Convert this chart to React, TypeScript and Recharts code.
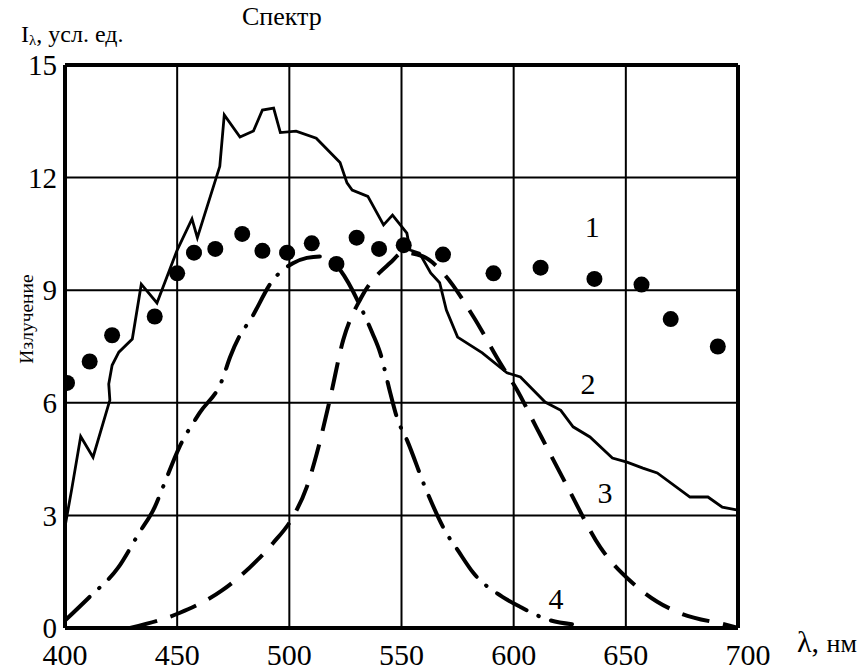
import {
  ComposedChart,
  Line,
  Scatter,
  XAxis,
  YAxis,
  CartesianGrid,
  ReferenceLine,
  ReferenceDot,
} from "recharts";

// wavelength ticks and intensity ticks
const xTicks = [400, 450, 500, 550, 600, 650, 700];
const yTicks = [0, 3, 6, 9, 12, 15];

// 1 - measured points
const dotsX = [400.9, 411, 421, 440, 450, 457.5, 467, 479, 488, 499, 510, 521, 530, 540, 551, 568.5, 591, 612, 636, 657, 670, 691];
const dotsY = [6.53, 7.1, 7.8, 8.3, 9.45, 10.0, 10.1, 10.5, 10.05, 10.0, 10.25, 9.7, 10.4, 10.1, 10.2, 9.95, 9.45, 9.6, 9.3, 9.15, 8.23, 7.5];

// 2 - spectrum
const specX = [400, 403, 407, 412.5, 420, 419.5, 421, 424, 430, 434, 441, 450, 456.6, 459, 469, 471, 478, 484, 488, 493, 496, 503, 512, 522.6, 525.7, 528, 535, 542, 546, 552.4, 553.8, 558, 563, 567, 570, 575, 586, 597, 603, 614, 621, 626.5, 634, 644, 650.5, 657.6, 664, 678.6, 686.6, 693, 700];
const specY = [2.7, 3.7, 5.1, 4.55, 6.07, 6.5, 7.0, 7.35, 7.7, 9.16, 8.66, 10.07, 10.9, 10.4, 12.3, 13.67, 13.08, 13.24, 13.8, 13.85, 13.2, 13.24, 13.05, 12.4, 11.86, 11.67, 11.5, 10.74, 11.0, 10.52, 10.07, 9.99, 9.46, 9.2, 8.47, 7.75, 7.33, 6.8, 6.69, 6.02, 5.8, 5.36, 5.09, 4.53, 4.42, 4.26, 4.13, 3.49, 3.49, 3.22, 3.14];

// 3 - dashed curve
const dashX = [429, 451, 470, 485.6, 492.7, 501.6, 507.8, 512.3, 518, 524, 532, 545, 550.7, 559.6, 568.5, 582, 594, 601.5, 610, 624, 638.5, 653, 664, 674, 695, 700];
const dashY = [0, 0.4, 1.0, 1.8, 2.26, 2.96, 3.76, 4.66, 6.07, 7.67, 8.8, 9.73, 10.0, 9.9, 9.46, 8.3, 7.06, 6.34, 5.36, 3.76, 2.16, 1.2, 0.7, 0.4, 0.08, 0];

// 4 - dash-dot curve
const dotDashX = [400, 411, 423.6, 433, 440, 443.7, 451, 460, 470, 473.6, 478, 482.5, 492.7, 501.6, 507.8, 513.7, 521, 533, 537, 540.5, 545, 548, 552.5, 561, 570, 575, 582, 595, 603, 616, 626];
const dotDashY = [0.2, 0.83, 1.6, 2.53, 3.22, 3.76, 4.82, 5.73, 6.6, 7.22, 7.8, 8.2, 9.27, 9.72, 9.86, 9.9, 9.65, 8.4, 7.86, 7.33, 6.26, 5.6, 5.0, 3.68, 2.53, 2.08, 1.47, 0.83, 0.56, 0.21, 0.1];

const zip = (xs: number[], ys: number[]) => xs.map((x, i) => ({ x, y: ys[i] }));

const font = "'Liberation Serif', 'DejaVu Serif', serif";

const Dot = (props: any) => <circle cx={props.cx} cy={props.cy} r={8} fill="#000" />;

// last tick label sits a little right of the border in the original
const XTick = (props: any) => {
  const { x, y, payload } = props;
  const shift = payload.value === 700 ? 10 : 0;
  return (
    <text x={x + shift} y={y} dy="0.71em" textAnchor="middle" fontSize={30} fontFamily={font} fill="#000">
      {payload.value}
    </text>
  );
};

const numLabel = (v: string) => ({
  value: v,
  position: "center" as const,
  fontSize: 30,
  fontFamily: font,
  fill: "#000",
});

export default function App() {
  return (
    <div style={{ position: "absolute", left: 0, top: 0, width: 861, height: 670, background: "#fff", fontFamily: font, color: "#000" }}>
      <ComposedChart width={861} height={670} margin={{ top: 65, right: 123, bottom: 0, left: 0 }}>
        <CartesianGrid stroke="#000" strokeWidth={2} strokeOpacity={1} />
        <XAxis
          dataKey="x"
          type="number"
          domain={[400, 700]}
          ticks={xTicks}
          height={42}
          tickSize={0}
          tickMargin={16}
          axisLine={{ stroke: "#000", strokeWidth: 4 }}
          tick={<XTick />}
          allowDataOverflow
        />
        <YAxis
          type="number"
          domain={[0, 15]}
          ticks={yTicks}
          width={65}
          tickSize={0}
          tickMargin={8}
          axisLine={{ stroke: "#000", strokeWidth: 4 }}
          tick={{ fill: "#000", fontSize: 29, fontFamily: font }}
          allowDataOverflow
        />
        <ReferenceLine y={15} stroke="#000" strokeWidth={4} />
        <ReferenceLine x={700} stroke="#000" strokeWidth={4} />
        <Line data={zip(specX, specY)} dataKey="y" type="linear" stroke="#000" strokeWidth={2.8} dot={false} isAnimationActive={false} />
        <Line data={zip(dashX, dashY)} dataKey="y" type="monotone" stroke="#000" strokeWidth={4} strokeDasharray="28 14" dot={false} isAnimationActive={false} />
        <Line data={zip(dotDashX, dotDashY)} dataKey="y" type="monotone" stroke="#000" strokeWidth={4} strokeLinecap="round" strokeDasharray="34 13 0.5 13" dot={false} isAnimationActive={false} />
        <Scatter data={zip(dotsX, dotsY)} dataKey="y" shape={<Dot />} isAnimationActive={false} />
        <ReferenceDot x={635} y={10.71} r={0} stroke="none" label={numLabel("1")} />
        <ReferenceDot x={633.1} y={6.53} r={0} stroke="none" label={numLabel("2")} />
        <ReferenceDot x={640.7} y={3.62} r={0} stroke="none" label={numLabel("3")} />
        <ReferenceDot x={618.9} y={0.8} r={0} stroke="none" label={numLabel("4")} />
      </ComposedChart>
      <div style={{ position: "absolute", left: 242, top: 2, fontSize: 26, lineHeight: "30px", whiteSpace: "nowrap" }}>Спектр</div>
      <div style={{ position: "absolute", left: 21, top: 20, fontSize: 24, lineHeight: "28px", whiteSpace: "nowrap" }}>
        I<sub style={{ fontSize: 15, verticalAlign: "-3px" }}>λ</sub>, усл. ед.
      </div>
      <div style={{ position: "absolute", left: 797, top: 625, fontSize: 30, lineHeight: "34px", whiteSpace: "nowrap" }}>
        λ, <span style={{ fontSize: 26 }}>нм</span>
      </div>
      <div
        style={{
          position: "absolute",
          left: 27 - 100,
          top: 319 - 13,
          width: 200,
          height: 26,
          lineHeight: "26px",
          fontSize: 19.5,
          textAlign: "center",
          transform: "rotate(-90deg)",
          whiteSpace: "nowrap",
        }}
      >
        Излучение
      </div>
    </div>
  );
}
